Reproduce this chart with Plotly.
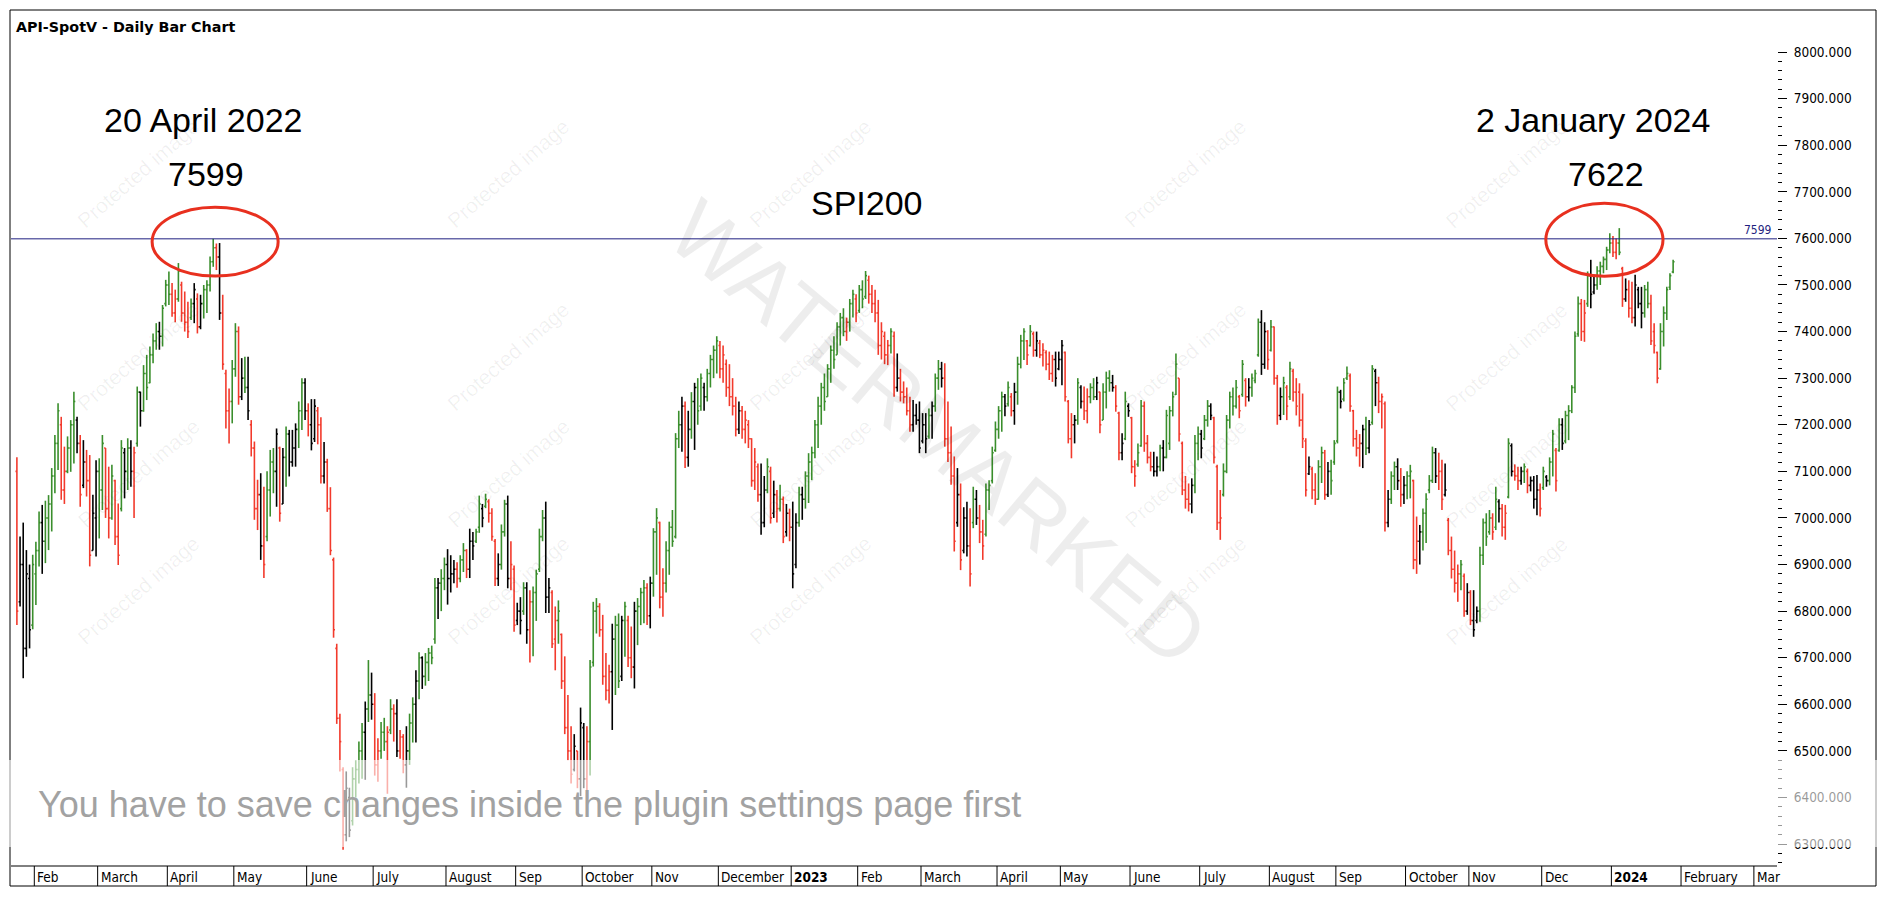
import plotly.graph_objects as go

# ---------------- data ----------------
HIGH = [
    7130, 6960, 6990, 6931, 6900, 6921, 6949, 7014, 7028, 7037,
    7049, 7107, 7178, 7246, 7217, 7153, 7175, 7210, 7271, 7217,
    7178, 7167, 7146, 7135, 7050, 7124, 7128, 7178, 7150, 7110,
    7114, 7082, 7031, 7167, 7150, 7171, 7167, 7153, 7282, 7271,
    7328, 7350, 7368, 7396, 7418, 7421, 7457, 7511, 7529, 7504,
    7490, 7547, 7507, 7486, 7464, 7471, 7504, 7482, 7479, 7500,
    7510, 7561, 7599, 7589, 7590, 7479, 7318, 7278, 7339, 7418,
    7411, 7343, 7346, 7346, 7210, 7164, 7082, 7096, 7067, 7100,
    7146, 7150, 7192, 7153, 7150, 7196, 7189, 7189, 7203, 7250,
    7300, 7300, 7246, 7255, 7255, 7238, 7216, 7163, 7127, 7066,
    6915, 6730, 6580, 6465, 6456, 6421, 6465, 6480, 6520, 6560,
    6606, 6695, 6668, 6624, 6527, 6562, 6571, 6553, 6611, 6600,
    6611, 6545, 6536, 6553, 6580, 6615, 6673, 6712, 6703, 6710,
    6721, 6726, 6871, 6871, 6890, 6915, 6933, 6920, 6910, 6905,
    6920, 6946, 6933, 6977, 6970, 6977, 7048, 7030, 7052, 7040,
    7021, 6955, 6924, 6986, 7039, 7048, 6950, 6898, 6818, 6830,
    6862, 6862, 6845, 6853, 6889, 6977, 7017, 7035, 6871, 6845,
    6810, 6823, 6752, 6703, 6620, 6553, 6536, 6500, 6593, 6560,
    6553, 6695, 6820, 6828, 6817, 6792, 6710, 6685, 6773, 6790,
    6795, 6790, 6820, 6790, 6767, 6820, 6828, 6850, 6867, 6860,
    6874, 6978, 7021, 6992, 6892, 6950, 6992, 7017, 7182, 7230,
    7260, 7250, 7230, 7270, 7290, 7300, 7310, 7290, 7320, 7350,
    7370, 7390, 7380, 7370, 7340, 7330, 7300, 7260, 7250, 7240,
    7230, 7210, 7171, 7150, 7117, 7117, 7090, 7128, 7110, 7080,
    7060, 7071, 7046, 7030, 7020, 7035, 7010, 7067, 7067, 7100,
    7139, 7153, 7210, 7260, 7290, 7310, 7330, 7370, 7390, 7420,
    7440, 7450, 7430, 7470, 7490, 7480, 7500, 7510, 7530, 7520,
    7500, 7490, 7468, 7420, 7400, 7382, 7407, 7400, 7353, 7320,
    7293, 7280, 7260, 7253, 7245, 7250, 7225, 7225, 7235, 7250,
    7310, 7339, 7335, 7332, 7250, 7196, 7132, 7107, 7074, 7023,
    7035, 7021, 7067, 7060, 7028, 6996, 7074, 7081, 7153, 7207,
    7240, 7271, 7266, 7293, 7268, 7290, 7346, 7393, 7407, 7382,
    7414, 7400, 7400, 7382, 7375, 7360, 7357, 7350, 7357, 7357,
    7382, 7357, 7253, 7225, 7221, 7300, 7285, 7282, 7278, 7289,
    7300, 7303, 7271, 7289, 7314, 7317, 7307, 7285, 7228, 7182,
    7271, 7246, 7217, 7124, 7160, 7253, 7250, 7178, 7142, 7142,
    7132, 7157, 7167, 7232, 7240, 7271, 7353, 7300, 7164, 7090,
    7074, 7085, 7178, 7196, 7189, 7221, 7253, 7246, 7217, 7114,
    7060, 7117, 7221, 7271, 7280, 7296, 7264, 7339, 7300, 7300,
    7310, 7318, 7428, 7446, 7420, 7403, 7425, 7411, 7307, 7280,
    7303, 7285, 7335, 7320, 7300, 7289, 7267, 7171, 7132, 7110,
    7096, 7124, 7153, 7146, 7120, 7125, 7167, 7282, 7275, 7300,
    7325, 7310, 7232, 7189, 7180, 7200, 7217, 7210, 7328, 7320,
    7303, 7267, 7250, 7060, 7100, 7121, 7128, 7107, 7090, 7100,
    7114, 7082, 7003, 6985, 7020, 7053, 7092, 7153, 7150, 7140,
    7125, 7117, 7000, 6960, 6930, 6900, 6910, 6881, 6860, 6845,
    6845, 6810, 6938, 6999, 7010, 7017, 7010, 7067, 7040, 7030,
    7028, 7171, 7160, 7115, 7110, 7110, 7117, 7106, 7089, 7090,
    7092, 7074, 7110, 7092, 7130, 7189, 7150, 7214, 7214, 7230,
    7242, 7285, 7400, 7475, 7470, 7468, 7529, 7554, 7522, 7540,
    7550, 7561, 7582, 7611, 7605, 7600, 7622, 7539, 7514, 7510,
    7507, 7522, 7496, 7496, 7500, 7507, 7479, 7418, 7357, 7418,
    7454, 7496, 7525, 7554,
]
LOW = [
    6770, 6810, 6656, 6702, 6720, 6761, 6813, 6896, 6880, 6903,
    6931, 6971, 7053, 7103, 7039, 7030, 7096, 7099, 7117, 7139,
    7024, 7064, 7046, 6896, 6930, 6917, 6956, 7017, 7000, 6956,
    6996, 6942, 6899, 7014, 7042, 7060, 7067, 7000, 7153, 7196,
    7228, 7253, 7289, 7332, 7361, 7361, 7368, 7454, 7457, 7432,
    7420, 7464, 7421, 7400, 7386, 7425, 7418, 7396, 7405, 7428,
    7440, 7486, 7539, 7532, 7425, 7318, 7192, 7160, 7203, 7303,
    7243, 7253, 7268, 7210, 7132, 6996, 6974, 6910, 6871, 6950,
    7003, 7053, 7024, 6992, 7030, 7067, 7089, 7110, 7110, 7150,
    7189, 7210, 7175, 7145, 7163, 7158, 7074, 7074, 7013, 6920,
    6743, 6558, 6456, 6288, 6306, 6315, 6340, 6400, 6430, 6440,
    6438, 6562, 6567, 6447, 6434, 6483, 6500, 6408, 6536, 6520,
    6487, 6483, 6452, 6421, 6470, 6518, 6518, 6611, 6633, 6640,
    6650, 6686, 6730, 6783, 6800, 6845, 6814, 6840, 6860, 6850,
    6862, 6884, 6871, 6871, 6910, 6946, 6968, 6980, 7021, 6990,
    6951, 6854, 6854, 6889, 6960, 6849, 6845, 6756, 6770, 6750,
    6792, 6730, 6690, 6703, 6779, 6884, 6950, 6796, 6796, 6721,
    6673, 6730, 6633, 6536, 6480, 6430, 6456, 6420, 6403, 6420,
    6403, 6447, 6681, 6752, 6745, 6642, 6609, 6602, 6545, 6620,
    6635, 6650, 6702, 6680, 6656, 6634, 6727, 6770, 6774, 6770,
    6763, 6831, 6878, 6806, 6788, 6840, 6878, 6938, 6956, 7150,
    7142, 7107, 7110, 7170, 7146, 7200, 7230, 7230, 7250, 7280,
    7300, 7310, 7300, 7290, 7260, 7240, 7220, 7175, 7180, 7170,
    7160, 7150, 7067, 7060, 7035, 6964, 6980, 7053, 6988, 7000,
    6990, 7014, 6946, 6960, 6950, 6849, 6892, 6981, 6996, 7020,
    7032, 7081, 7128, 7150, 7200, 7230, 7260, 7290, 7320, 7350,
    7370, 7390, 7380, 7400, 7430, 7420, 7440, 7450, 7470, 7460,
    7440, 7420, 7350, 7340, 7330, 7328, 7353, 7260, 7271, 7250,
    7246, 7220, 7185, 7185, 7200, 7139, 7160, 7139, 7170, 7170,
    7228, 7275, 7280, 7153, 7120, 7071, 6928, 6981, 6888, 6924,
    6917, 6853, 6978, 6985, 6946, 6910, 6960, 7017, 7074, 7142,
    7170, 7185, 7218, 7239, 7218, 7200, 7243, 7321, 7339, 7328,
    7368, 7346, 7346, 7343, 7325, 7317, 7296, 7292, 7282, 7317,
    7285, 7250, 7160, 7128, 7160, 7200, 7235, 7210, 7203, 7246,
    7253, 7253, 7182, 7210, 7235, 7271, 7271, 7228, 7124, 7124,
    7167, 7217, 7096, 7067, 7110, 7153, 7142, 7117, 7100, 7089,
    7089, 7100, 7100, 7128, 7146, 7218, 7264, 7164, 7049, 7020,
    7014, 7010, 7053, 7124, 7128, 7167, 7196, 7210, 7117, 6974,
    6953, 7046, 7096, 7192, 7220, 7235, 7214, 7260, 7239, 7250,
    7260, 7289, 7346, 7307, 7320, 7318, 7357, 7286, 7200, 7210,
    7221, 7210, 7253, 7250, 7220, 7196, 7150, 7046, 7092, 7040,
    7028, 7039, 7075, 7039, 7045, 7050, 7114, 7160, 7235, 7250,
    7296, 7228, 7153, 7132, 7110, 7107, 7135, 7139, 7200, 7240,
    7225, 7192, 6971, 6980, 7030, 7060, 7060, 7024, 7030, 7040,
    7042, 6890, 6880, 6900, 6930, 6946, 7053, 7075, 7075, 7060,
    7017, 7046, 6920, 6870, 6840, 6820, 6845, 6788, 6792, 6770,
    6745, 6774, 6777, 6899, 6940, 6964, 6953, 6974, 6990, 6960,
    6953, 7042, 7089, 7080, 7060, 7071, 7075, 7053, 7057, 7020,
    7006, 7003, 7060, 7067, 7070, 7089, 7057, 7142, 7146, 7160,
    7167, 7225, 7268, 7389, 7380, 7378, 7453, 7450, 7480, 7490,
    7500, 7525, 7532, 7568, 7560, 7555, 7564, 7453, 7464, 7430,
    7418, 7411, 7450, 7407, 7430, 7450, 7371, 7353, 7289, 7318,
    7368, 7425, 7489, 7525,
]
OPEN = [
    7100, 6820, 6900, 6720, 6870, 6770, 6880, 6930, 6990, 6950,
    7000, 7030, 7090, 7160, 7200, 7060, 7100, 7150, 7200, 7210,
    7160, 7070, 7120, 7080, 6930, 7000, 7100, 7060, 7150, 7020,
    7000, 7080, 6960, 7020, 7140, 7100, 7150, 7100, 7160, 7270,
    7230, 7310, 7290, 7350, 7380, 7400, 7390, 7460, 7500, 7480,
    7440, 7470, 7500, 7440, 7420, 7430, 7460, 7470, 7410, 7460,
    7490, 7500, 7550, 7580, 7560, 7440, 7310, 7230, 7250, 7320,
    7400, 7260, 7300, 7280, 7200, 7150, 7020, 7050, 6940, 6960,
    7060, 7120, 7100, 7150, 7030, 7130, 7180, 7120, 7150, 7190,
    7230, 7290, 7230, 7200, 7170, 7230, 7200, 7090, 7120, 7020,
    6910, 6720, 6570, 6460, 6320, 6400, 6350, 6440, 6460, 6500,
    6540, 6590, 6620, 6600, 6470, 6500, 6540, 6520, 6545, 6590,
    6580, 6500, 6530, 6470, 6500, 6560, 6600, 6650, 6700, 6660,
    6690, 6710, 6740, 6850, 6860, 6870, 6900, 6870, 6880, 6890,
    6870, 6910, 6930, 6890, 6950, 6950, 6980, 7020, 7025, 7035,
    7010, 6950, 6870, 6900, 6970, 7030, 6870, 6890, 6780, 6800,
    6800, 6850, 6760, 6820, 6840, 6890, 6960, 7000, 6830, 6840,
    6740, 6780, 6750, 6650, 6550, 6500, 6460, 6500, 6440, 6550,
    6440, 6520, 6690, 6800, 6810, 6760, 6660, 6630, 6670, 6740,
    6770, 6660, 6780, 6780, 6700, 6680, 6800, 6810, 6840, 6850,
    6790, 6860, 6970, 6990, 6830, 6860, 6930, 6980, 6960, 7170,
    7200, 7240, 7130, 7190, 7250, 7280, 7240, 7280, 7260, 7310,
    7340, 7360, 7370, 7320, 7330, 7280, 7260, 7240, 7190, 7230,
    7190, 7200, 7170, 7080, 7110, 7050, 6990, 7060, 7100, 7010,
    7050, 7020, 7040, 6970, 7010, 6980, 6900, 6990, 7050, 7040,
    7090, 7120, 7140, 7200, 7240, 7280, 7260, 7320, 7360, 7350,
    7410, 7430, 7400, 7420, 7460, 7470, 7445, 7490, 7475, 7510,
    7480, 7460, 7440, 7370, 7390, 7350, 7370, 7390, 7280, 7300,
    7270, 7260, 7230, 7200, 7220, 7210, 7165, 7200, 7175, 7220,
    7240, 7300, 7320, 7300, 7170, 7140, 7090, 6990, 7050, 6930,
    7000, 6940, 6990, 7040, 7000, 6970, 6965, 7060, 7080, 7145,
    7190, 7230, 7260, 7245, 7260, 7230, 7270, 7330, 7380, 7380,
    7370, 7395, 7360, 7375, 7350, 7355, 7330, 7310, 7340, 7320,
    7340, 7355, 7250, 7170, 7200, 7210, 7280, 7250, 7230, 7260,
    7280, 7260, 7270, 7210, 7270, 7300, 7290, 7280, 7225, 7140,
    7170, 7240, 7215, 7110, 7115, 7155, 7240, 7160, 7130, 7110,
    7100, 7110, 7150, 7130, 7160, 7230, 7265, 7300, 7160, 7060,
    7040, 7030, 7070, 7160, 7180, 7170, 7210, 7240, 7215, 7110,
    6990, 7050, 7100, 7210, 7260, 7240, 7260, 7265, 7295, 7260,
    7280, 7295, 7350, 7420, 7330, 7400, 7360, 7410, 7300, 7220,
    7260, 7280, 7260, 7315, 7270, 7270, 7210, 7165, 7095, 7105,
    7060, 7040, 7110, 7140, 7050, 7100, 7120, 7165, 7270, 7255,
    7300, 7305, 7230, 7170, 7150, 7160, 7190, 7150, 7205, 7315,
    7290, 7250, 7245, 6990, 7040, 7090, 7110, 7080, 7050, 7070,
    7090, 7080, 6910, 6950, 6970, 7010, 7060, 7080, 7140, 7090,
    7100, 7050, 6995, 6930, 6890, 6860, 6880, 6875, 6800, 6840,
    6780, 6780, 6800, 6920, 6990, 6970, 7000, 6980, 7035, 7020,
    6980, 7045, 7155, 7100, 7090, 7080, 7100, 7100, 7070, 7080,
    7040, 7060, 7065, 7088, 7080, 7120, 7145, 7145, 7200, 7165,
    7220, 7230, 7280, 7395, 7460, 7400, 7460, 7520, 7485, 7500,
    7530, 7540, 7555, 7575, 7590, 7570, 7590, 7535, 7470, 7490,
    7450, 7430, 7490, 7460, 7440, 7490, 7460, 7400, 7355, 7320,
    7400, 7440, 7495, 7528,
]
CLOSE = [
    6800, 6900, 6720, 6880, 6760, 6900, 6930, 6990, 6950, 7000,
    7030, 7090, 7160, 7230, 7060, 7100, 7150, 7200, 7250, 7160,
    7050, 7120, 7080, 6920, 7010, 7100, 7060, 7160, 7020, 7000,
    7090, 6960, 6920, 7150, 7100, 7150, 7100, 7140, 7270, 7230,
    7310, 7280, 7350, 7380, 7400, 7390, 7450, 7500, 7480, 7440,
    7470, 7530, 7440, 7420, 7400, 7460, 7490, 7410, 7460, 7490,
    7500, 7550, 7580, 7560, 7440, 7330, 7230, 7250, 7320, 7400,
    7260, 7300, 7280, 7230, 7150, 7020, 7050, 6940, 6900, 7060,
    7120, 7100, 7180, 7010, 7130, 7180, 7120, 7150, 7190, 7230,
    7290, 7230, 7200, 7160, 7240, 7200, 7090, 7120, 7020, 6930,
    6760, 6570, 6520, 6320, 6420, 6330, 6440, 6460, 6500, 6540,
    6590, 6620, 6600, 6470, 6500, 6540, 6520, 6540, 6590, 6580,
    6500, 6530, 6470, 6500, 6560, 6600, 6650, 6700, 6660, 6690,
    6710, 6700, 6850, 6860, 6870, 6900, 6870, 6880, 6890, 6870,
    6910, 6930, 6890, 6950, 6940, 6970, 7030, 7000, 7040, 7010,
    6960, 6870, 6900, 6970, 7030, 6870, 6900, 6770, 6800, 6780,
    6850, 6760, 6820, 6840, 6880, 6960, 7000, 6830, 6850, 6730,
    6780, 6800, 6650, 6550, 6500, 6450, 6510, 6440, 6560, 6440,
    6520, 6680, 6800, 6810, 6760, 6660, 6630, 6670, 6740, 6770,
    6650, 6780, 6810, 6700, 6680, 6800, 6810, 6840, 6850, 6790,
    6860, 6970, 7000, 6830, 6860, 6930, 6980, 6950, 7170, 7200,
    7240, 7130, 7190, 7250, 7280, 7230, 7300, 7260, 7310, 7340,
    7360, 7380, 7320, 7350, 7280, 7260, 7240, 7190, 7230, 7190,
    7210, 7170, 7080, 7120, 7050, 6990, 7060, 7110, 7000, 7050,
    7020, 7040, 6960, 7010, 6980, 6880, 6990, 7050, 7040, 7090,
    7120, 7140, 7200, 7240, 7280, 7250, 7320, 7360, 7340, 7410,
    7430, 7400, 7420, 7460, 7480, 7440, 7490, 7470, 7520, 7480,
    7460, 7440, 7370, 7400, 7350, 7370, 7400, 7280, 7300, 7270,
    7260, 7230, 7200, 7220, 7210, 7150, 7200, 7170, 7220, 7240,
    7300, 7320, 7300, 7170, 7140, 7090, 6950, 7050, 6910, 7000,
    6940, 6880, 7040, 7000, 6970, 6940, 7060, 7070, 7140, 7190,
    7230, 7260, 7240, 7280, 7230, 7270, 7330, 7380, 7400, 7350,
    7400, 7360, 7380, 7350, 7360, 7330, 7310, 7340, 7300, 7340,
    7370, 7260, 7170, 7200, 7210, 7290, 7250, 7230, 7260, 7280,
    7260, 7290, 7200, 7270, 7300, 7290, 7280, 7240, 7140, 7160,
    7250, 7230, 7110, 7090, 7140, 7240, 7160, 7130, 7110, 7100,
    7110, 7150, 7130, 7220, 7230, 7260, 7330, 7180, 7060, 7040,
    7030, 7070, 7160, 7180, 7150, 7210, 7240, 7220, 7130, 6990,
    7000, 7100, 7210, 7260, 7240, 7280, 7230, 7330, 7260, 7280,
    7300, 7310, 7420, 7330, 7400, 7340, 7410, 7300, 7220, 7260,
    7290, 7240, 7320, 7270, 7240, 7210, 7170, 7060, 7110, 7060,
    7040, 7110, 7140, 7050, 7100, 7080, 7160, 7270, 7250, 7290,
    7310, 7240, 7170, 7150, 7160, 7190, 7150, 7200, 7320, 7290,
    7250, 7260, 6990, 7040, 7090, 7110, 7080, 7050, 7070, 7090,
    7100, 6910, 6950, 6970, 7010, 7040, 7080, 7140, 7090, 7100,
    7040, 7060, 6930, 6890, 6860, 6880, 6900, 6800, 6840, 6780,
    6760, 6800, 6920, 6990, 6960, 7000, 6970, 7040, 7020, 6980,
    7010, 7160, 7100, 7090, 7080, 7100, 7110, 7070, 7080, 7040,
    7060, 7020, 7100, 7080, 7120, 7180, 7080, 7200, 7160, 7220,
    7230, 7280, 7390, 7460, 7400, 7440, 7520, 7480, 7500, 7530,
    7540, 7555, 7575, 7590, 7570, 7590, 7570, 7470, 7490, 7450,
    7430, 7500, 7460, 7440, 7490, 7460, 7380, 7370, 7300, 7400,
    7440, 7490, 7520, 7550,
]

# bottom time strip: label and index of the first bar of each month
MONTH_LABELS = ["Feb", "March", "April", "May", "June", "July", "August", "Sep",
                "October", "Nov", "December", "2023", "Feb", "March", "April", "May",
                "June", "July", "August", "Sep", "October", "Nov", "Dec", "2024",
                "February", "Mar"]
MONTH_START = [6, 26, 48, 69, 92, 113, 136, 158, 179, 201, 222, 245, 266, 286,
               310, 330, 352, 374, 396, 417, 439, 459, 482, 504, 526, 549]
YEAR_LABELS = ("2023", "2024")
PRICE_TICKS = list(range(6300, 8001, 100))

TITLE = "API-SpotV - Daily Bar Chart"
INSTRUMENT = "SPI200"
PEAK1_DATE = "20 April 2022"
PEAK2_DATE = "2 January 2024"
NOTICE = "You have to save changes inside the plugin settings page first"

assert len(HIGH) == len(LOW) == len(OPEN) == len(CLOSE)
assert len(MONTH_LABELS) == len(MONTH_START)

# ---------------- geometry / style ----------------
W, H = 1888, 898
PL, PR, PT, PB = 11, 1777, 11, 866
X_MIN, X_MAX = -1.86, 555.8
Y_MIN, Y_MAX = 6253, 8088

GREEN = "#3a8e2c"
RED = "#f23a2c"
BLACK = "#000000"
NAVY = "#1f1f80"
ELL_RED = "#e8301f"
AX_FONT = "DejaVu Sans Condensed, DejaVu Sans, sans-serif"
BIG_FONT = "Liberation Sans Narrow, Liberation Sans, sans-serif"


def px_x(px):
    return (px - PL) / (PR - PL)


def px_y(py):
    return (PB - py) / (PB - PT)


def idx_x(i):
    return (i - X_MIN) / (X_MAX - X_MIN)


n = len(HIGH)
peak1 = max(range(n // 2), key=lambda i: HIGH[i])
peak2 = max(range(n // 2, n), key=lambda i: HIGH[i])
LEVEL = HIGH[peak1]

groups = {GREEN: ([], []), RED: ([], []), BLACK: ([], [])}
for i in range(n):
    if i == 0:
        c = RED
    else:
        up = HIGH[i] > HIGH[i - 1] and LOW[i] > LOW[i - 1]
        dn = HIGH[i] < HIGH[i - 1] and LOW[i] < LOW[i - 1]
        c = GREEN if up else (RED if dn else BLACK)
    xs, ys = groups[c]
    xs += [i, i, None, i - 0.45, i, None, i, i + 0.45, None]
    ys += [LOW[i], HIGH[i], None, OPEN[i], OPEN[i], None, CLOSE[i], CLOSE[i], None]

fig = go.Figure()
for col, (xs, ys) in groups.items():
    fig.add_trace(go.Scatter(x=xs, y=ys, mode="lines",
                             line=dict(color=col, width=1.6),
                             hoverinfo="skip", showlegend=False))

shapes = []
annotations = []

# level line at the 2022 high
shapes.append(dict(type="line", xref="paper", yref="y", x0=0, x1=1,
                   y0=LEVEL, y1=LEVEL, line=dict(color=NAVY, width=1)))
annotations.append(dict(xref="paper", yref="y", x=1, y=LEVEL, xanchor="right",
                        yanchor="bottom", xshift=-3, yshift=0, showarrow=False,
                        text=str(LEVEL), font=dict(family=AX_FONT, size=12, color=NAVY)))

# ellipses around the two highs (centre index, centre price, half width, half height)
ELLIPSES = [(peak1 + 0.6, LEVEL - 6, 19.9, 74), (peak2 - 4.7, LEVEL - 2, 18.5, 78.5)]
for cx, cy, rx, ry in ELLIPSES:
    shapes.append(dict(type="circle", xref="x", yref="y", x0=cx - rx, x1=cx + rx,
                       y0=cy - ry, y1=cy + ry, line=dict(color=ELL_RED, width=3)))

# big labels
for x, y, t in [(58.8, 7854, PEAK1_DATE), (59.7, 7738, str(LEVEL)),
                (268.4, 7675, INSTRUMENT), (497.7, 7854, PEAK2_DATE),
                (501.8, 7738, str(HIGH[peak2]))]:
    annotations.append(dict(xref="x", yref="y", x=x, y=y, text=t, showarrow=False,
                            xanchor="center", yanchor="middle",
                            font=dict(family=BIG_FONT, size=34, color="#000000")))

# title
annotations.append(dict(xref="paper", yref="paper", x=px_x(14), y=px_y(27),
                        xanchor="left", yanchor="middle", showarrow=False,
                        text="<b>" + TITLE + "</b>",
                        font=dict(family="DejaVu Sans, sans-serif", size=14.3, color="#000")))

# watermarks
annotations.append(dict(xref="paper", yref="paper", x=px_x(939), y=px_y(433),
                        text="WATERMARKED", textangle=40, showarrow=False,
                        font=dict(family="Liberation Sans, sans-serif", size=86,
                                  color="rgba(0,0,0,0.07)")))
for cx in [70, 440, 810, 1185, 1575]:
    for cy in [112, 295, 473, 652]:
        annotations.append(dict(xref="paper", yref="paper", x=px_x(cx), y=px_y(cy),
                                text="Protected image", textangle=-41, showarrow=False,
                                font=dict(family="Liberation Sans, sans-serif", size=21,
                                          color="rgba(0,0,0,0.06)")))

# time strip
shapes.append(dict(type="line", xref="paper", yref="paper", x0=0, x1=1, y0=0, y1=0,
                   line=dict(color="#000", width=1)))
for lab, m in zip(MONTH_LABELS, MONTH_START):
    xp = idx_x(m - 0.5)
    shapes.append(dict(type="line", xref="paper", yref="paper", x0=xp, x1=xp,
                       y0=px_y(886), y1=0, line=dict(color="#000", width=1)))
    txt = "<b>" + lab + "</b>" if lab in YEAR_LABELS else lab
    annotations.append(dict(xref="paper", yref="paper", x=xp, y=px_y(876.5),
                            xanchor="left", yanchor="middle", xshift=1, showarrow=False,
                            text=txt, font=dict(family=AX_FONT, size=13.5, color="#000")))

# outer frame
shapes.append(dict(type="rect", xref="paper", yref="paper", x0=px_x(10), x1=px_x(1876),
                   y0=px_y(886), y1=px_y(10), line=dict(color="#000", width=1),
                   fillcolor="rgba(0,0,0,0)"))

# translucent notice box
shapes.append(dict(type="rect", xref="paper", yref="paper", x0=px_x(9), x1=px_x(1878),
                   y0=px_y(847), y1=px_y(760), line=dict(width=0),
                   fillcolor="rgba(255,255,255,0.6)", layer="above"))
annotations.append(dict(xref="paper", yref="paper", x=px_x(36), y=px_y(804),
                        xanchor="left", yanchor="middle", showarrow=False, text=NOTICE,
                        font=dict(family="Liberation Sans, sans-serif", size=36,
                                  color="#a2a2a2")))

minor_vals = [v for v in range(6260, 8001, 20) if v % 100 != 0]

fig.update_layout(
    width=W, height=H,
    margin=dict(l=PL, r=W - PR, t=PT, b=H - PB, pad=0),
    paper_bgcolor="white", plot_bgcolor="white",
    showlegend=False, hovermode=False,
    shapes=shapes, annotations=annotations,
    xaxis=dict(range=[X_MIN, X_MAX], visible=False, fixedrange=True),
    yaxis=dict(range=[Y_MIN, Y_MAX], side="right", showgrid=False, zeroline=False,
               showline=False, tickmode="array", tickvals=PRICE_TICKS,
               ticktext=[f"{v:.3f}" for v in PRICE_TICKS],
               ticks="outside", ticklen=9, tickwidth=1, tickcolor="#000",
               ticklabelstandoff=4,
               tickfont=dict(family=AX_FONT, size=13.5, color="#000"),
               minor=dict(tickmode="array", tickvals=minor_vals, ticks="outside",
                          ticklen=4, tickwidth=1, tickcolor="#000"),
               fixedrange=True),
)

fig.write_html("out.html")
